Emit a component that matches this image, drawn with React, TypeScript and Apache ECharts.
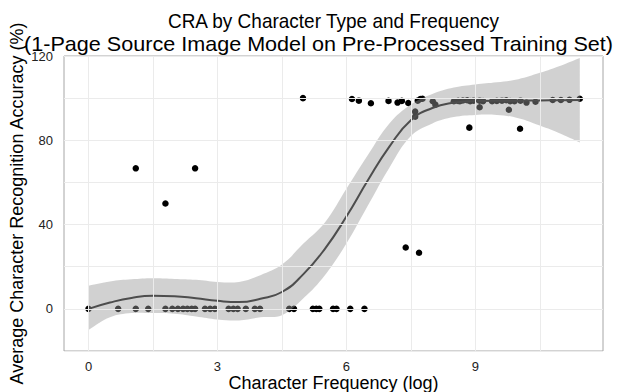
import React, { useEffect, useRef } from "react";
import * as echarts from "echarts";

// ---- data ----
const zeroRowX = [0, 0.69, 1.1, 1.39, 1.79, 1.95, 2.08, 2.2, 2.3, 2.4, 2.48, 2.71, 2.83, 2.94, 3.26, 3.37, 3.47, 3.66, 3.87, 3.99, 4.67, 4.78, 5.22, 5.3, 5.37, 5.69, 5.77, 6.09, 6.42];
const otherPoints: [number, number][] = [
  [1.1, 66.7], [1.79, 50], [2.48, 66.7], [7.38, 29.1], [7.69, 26.6],
  [4.99, 100], [6.13, 99.6], [6.29, 98.8], [6.57, 97.6], [6.98, 98.7], [7.19, 97.9], [7.29, 98.7], [7.44, 97.7],
  [7.6, 93.6], [7.6, 91.2], [7.66, 98.8], [7.72, 99.6], [7.77, 99.7], [8.01, 98.5], [8.07, 96.9],
  [8.5, 98.5], [8.6, 98.7], [8.64, 98.5], [8.71, 98.9], [8.81, 99.0], [8.88, 98.6], [8.96, 98.8], [9.1, 98.8], [9.18, 98.6],
  [8.86, 86.0], [9.1, 95.7], [9.39, 98.5], [9.5, 98.7], [9.62, 98.8], [9.72, 99.0], [9.81, 98.6], [9.91, 98.5], [10.05, 98.8],
  [9.78, 94.5], [10.04, 85.5], [10.19, 97.9], [10.4, 98.3], [10.8, 99.1], [10.99, 99.1], [11.19, 99.2], [11.43, 99.7],
];
const smoothX = [0, 0.5, 1, 1.5, 2, 2.5, 3, 3.5, 4, 4.5, 5, 5.5, 6, 6.5, 7, 7.5, 8, 8.5, 9, 9.5, 10, 10.5, 11, 11.43];
const smoothFit = [0, 3.0, 5.2, 6.2, 6.0, 5.0, 3.8, 3.2, 4.8, 8.0, 16.5, 28.5, 43.8, 61, 77, 89.5, 95.3, 97.8, 98.6, 98.8, 98.8, 98.9, 99.0, 99.1];
const bandUpper = [11, 13, 14, 14.5, 14.2, 13.8, 12.8, 12.8, 16, 21, 31, 41, 57, 73, 88, 97, 102, 105, 106.5, 107.5, 109, 112, 115.5, 119];
const bandLower = [-10, -4, -2, -2, -2.3, -3.6, -5, -5.5, -4, -3, 5, 16, 31, 49, 67, 82, 88, 91, 92, 92, 90.5, 87, 83, 79];
const xTicks = [0, 3, 6, 9];
const yTicks = [0, 40, 80, 120];
const xGrid = [0, 1.5, 3, 4.5, 6, 7.5, 9, 10.5];
const yGrid = [-20, 0, 20, 40, 60, 80, 100, 120];
const titleLines = ["CRA by Character Type and Frequency", "(1-Page Source Image Model on Pre-Processed Training Set)"];

const FONT = "Liberation Sans, Arial, Helvetica, sans-serif";

export default function App() {
  const ref = useRef<HTMLDivElement>(null);
  useEffect(() => {
    if (!ref.current) return;
    const chart = echarts.init(ref.current, null, { renderer: "svg" });
    const points = [...zeroRowX.map((x) => [x, 0]), ...otherPoints];
    const band = smoothX.map((x, i) => [x, bandLower[i], bandUpper[i]]);
    const fit = smoothX.map((x, i) => [x, smoothFit[i]]);
    const gridLine = { color: "#ebebeb", width: 1, type: "solid" as const };
    chart.setOption({
      animation: false,
      textStyle: { fontFamily: FONT },
      grid: {
        left: 64, right: 18, top: 56, bottom: 41, outerBoundsMode: "none", containLabel: false,
        show: true, borderColor: "#a6a6a6", borderWidth: 1, backgroundColor: "#ffffff",
      },
      graphic: [
        { type: "text", x: 333.5, y: 21, scaleX: 0.95, style: { text: titleLines[0], fontSize: 20, fontFamily: FONT, fill: "#000", textAlign: "center", textVerticalAlign: "middle" } },
        { type: "text", x: 318.5, y: 44, scaleX: 1.08, style: { text: titleLines[1], fontSize: 20, fontFamily: FONT, fill: "#000", textAlign: "center", textVerticalAlign: "middle" } },
      ],
      xAxis: {
        type: "value", min: -0.57, max: 11.97,
        name: "Character Frequency (log)", nameLocation: "middle", nameGap: 23, nameMoveOverlap: false,
        nameTextStyle: { fontSize: 18, color: "#000", fontFamily: FONT },
        axisLine: { show: false },
        axisTick: { show: true, length: 5, customValues: xTicks, lineStyle: { color: "#333" } },
        axisLabel: { customValues: xTicks, fontSize: 13, color: "#222", margin: 9, fontFamily: FONT },
        splitLine: { show: false },
      },
      yAxis: {
        type: "value", min: -20, max: 120,
        name: "Average Character Recognition Accuracy (%)", nameLocation: "middle", nameGap: 38, nameMoveOverlap: false,
        nameTextStyle: { fontSize: 18, color: "#000", fontFamily: FONT },
        axisLine: { show: false },
        axisTick: { show: true, length: 5, customValues: yTicks, lineStyle: { color: "#333" } },
        axisLabel: { customValues: yTicks, fontSize: 13, color: "#222", margin: 11, fontFamily: FONT },
        splitLine: { show: false },
      },
      series: [
        {
          type: "line", data: [], z: 1, silent: true,
          markLine: {
            silent: true, symbol: "none", label: { show: false }, lineStyle: gridLine, animation: false,
            data: [...xGrid.map((v) => ({ xAxis: v })), ...yGrid.map((v) => ({ yAxis: v }))],
          },
        },
        {
          type: "scatter", data: points, z: 2, symbolSize: 6.5,
          itemStyle: { color: "#000", opacity: 1 },
        },
        {
          type: "custom", data: band, z: 3, silent: true, clip: true,
          encode: { x: 0, y: [1, 2] },
          renderItem: (params: any, api: any) => {
            if (params.dataIndex !== 0) return null;
            const up = smoothX.map((x, i) => api.coord([x, bandUpper[i]]));
            const lo = smoothX.map((x, i) => api.coord([x, bandLower[i]])).reverse();
            // duplicate the four corners so the smoothing keeps them sharp
            const ring = [up[0], ...up, up[up.length - 1], lo[0], ...lo, lo[lo.length - 1]];
            return {
              type: "polygon",
              shape: { points: ring, smooth: 0.4, smoothConstraint: false },
              style: { fill: "rgba(153,153,153,0.45)", stroke: "none" },
            };
          },
        },
        {
          type: "line", data: fit, z: 4, smooth: true, symbol: "none",
          lineStyle: { color: "#4d4d4d", width: 2 },
        },
      ],
    });
    return () => chart.dispose();
  }, []);
  return <div ref={ref} style={{ width: 621, height: 392, position: "absolute", left: 0, top: 0 }} />;
}
